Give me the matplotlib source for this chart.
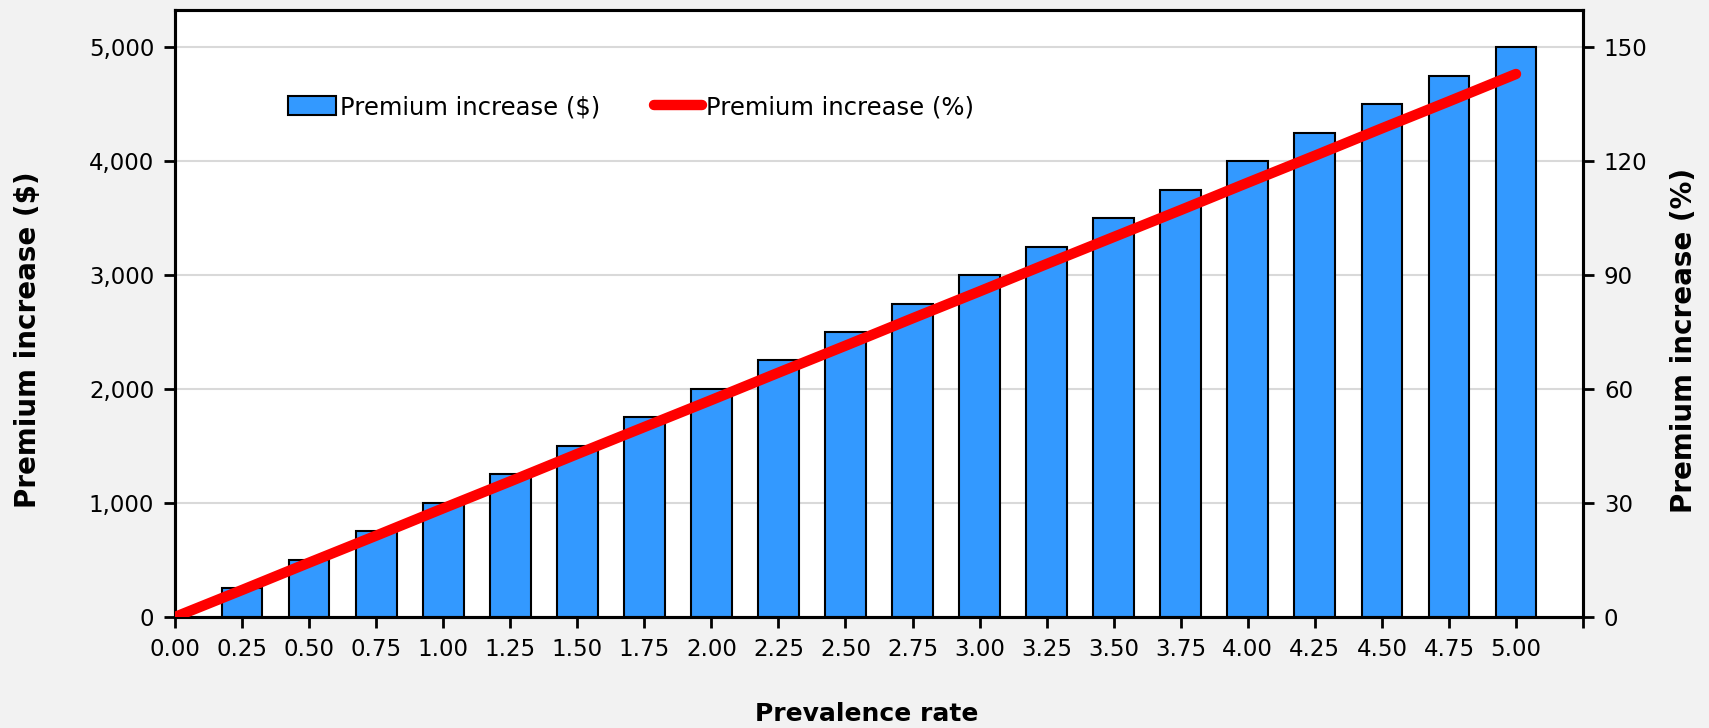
import matplotlib
matplotlib.use("Agg")
import matplotlib.pyplot as plt
from matplotlib.ticker import FuncFormatter, MultipleLocator

plt.rcParams['font.family'] = ['DejaVu Sans']

# Prevalence rate (x) and premium increases
prevalence = [0.25, 0.50, 0.75, 1.00, 1.25, 1.50, 1.75, 2.00, 2.25, 2.50,
              2.75, 3.00, 3.25, 3.50, 3.75, 4.00, 4.25, 4.50, 4.75, 5.00]
premium_dollars = [250, 500, 750, 1000, 1250, 1500, 1750, 2000, 2250, 2500,
                   2750, 3000, 3250, 3500, 3750, 4000, 4250, 4500, 4750, 5000]
line_prevalence = [0.00] + prevalence
premium_percent = [0.0, 7.1, 14.3, 21.4, 28.6, 35.7, 42.9, 50.0, 57.1, 64.3, 71.4,
                   78.6, 85.7, 92.9, 100.0, 107.1, 114.3, 121.4, 128.6, 135.7, 142.9]
x_tick_values = [0.25 * i for i in range(22)]
x_tick_labels = [f"{v:.2f}" for v in x_tick_values[:-1]] + [""]

BG = "#f2f2f2"
BAR = "#3399ff"

fig = plt.figure(figsize=(17.09, 7.28), dpi=100, facecolor=BG)
ax = fig.add_axes([0.1024, 0.1525, 0.8239, 0.8338])
ax2 = ax.twinx()

ax.set_zorder(1)
ax2.set_zorder(2)
ax2.patch.set_visible(False)

ax.bar(prevalence, premium_dollars, width=0.152, color=BAR, edgecolor="black",
       linewidth=1.5, zorder=3, label="Premium increase ($)")
ax2.plot(line_prevalence, premium_percent, color="#ff0000", linewidth=7.5,
         solid_capstyle="round", zorder=4, label="Premium increase (%)")

ax.set_xlim(0, 5.25)
ax.set_ylim(0, 5325)
ax2.set_ylim(0, 159.75)

ax.set_xticks(x_tick_values)
ax.set_xticklabels(x_tick_labels)
ax.yaxis.set_major_locator(MultipleLocator(1000))
ax.yaxis.set_major_formatter(FuncFormatter(lambda v, p: f"{int(v):,}"))
ax2.yaxis.set_major_locator(MultipleLocator(30))

ax.grid(axis="y", color="#d9d9d9", linewidth=1.5, zorder=0)
ax.set_axisbelow(True)

for a in (ax, ax2):
    for s in a.spines.values():
        s.set_linewidth(2.2)
        s.set_color("black")
    a.tick_params(axis="both", direction="out", length=8, width=2, labelsize=16.5,
                  colors="black", pad=7)

ax.set_ylabel("Premium increase ($)", fontsize=20, fontweight="bold", labelpad=34)
ax2.set_ylabel("Premium increase (%)", fontsize=20, fontweight="bold", labelpad=16)
ax.set_xlabel("Prevalence rate", fontsize=18, fontweight="bold", labelpad=30)
ax.yaxis.label.set_y(0.456)
ax2.yaxis.label.set_y(0.456)
ax.xaxis.label.set_x(0.491)

h1, l1 = ax.get_legend_handles_labels()
h2, l2 = ax2.get_legend_handles_labels()
ax2.legend(h1 + h2, l1 + l2, loc="center left", bbox_to_anchor=(0.080, 0.84),
           ncol=2, frameon=False, fontsize=17.5, handlelength=2.0,
           handletextpad=0.15, columnspacing=2.2, handleheight=0.8,
           borderpad=0, borderaxespad=0)

fig.savefig("out.png", dpi=100, facecolor=BG)
